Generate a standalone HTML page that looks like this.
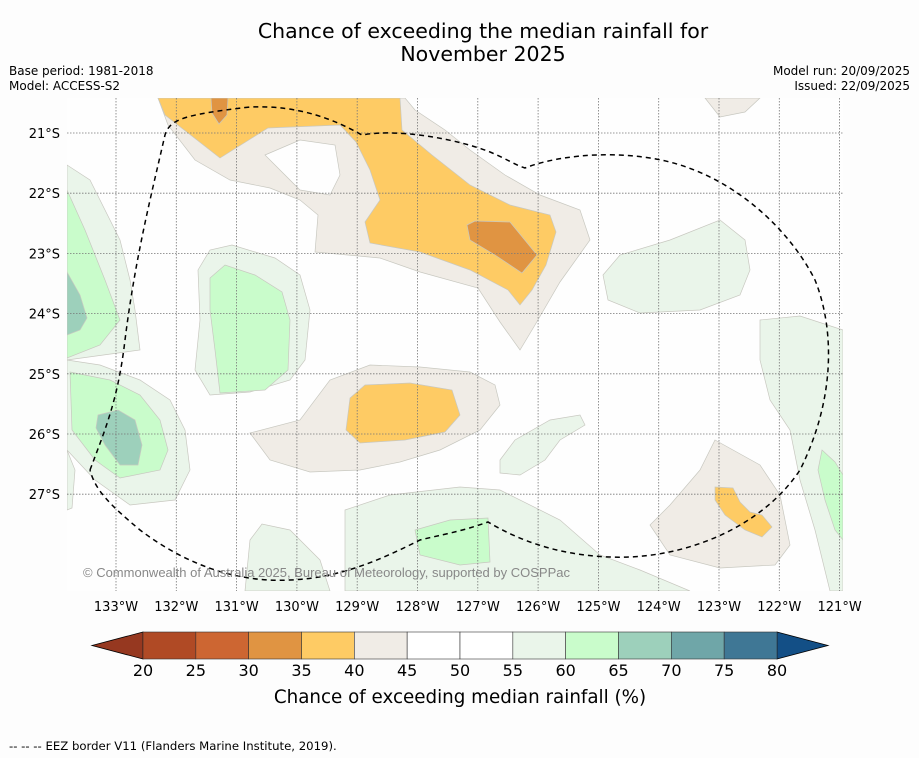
<!DOCTYPE html>
<html><head><meta charset="utf-8"><style>
body{margin:0;background:#fdfdfd;width:919px;height:758px;overflow:hidden;font-family:"Liberation Sans","DejaVu Sans",sans-serif}
svg{position:absolute;left:0;top:0}
</style></head><body>
<svg width="919" height="758">
<text x="483" y="38" font-size="20.5" text-anchor="middle" font-family="DejaVu Sans,sans-serif">Chance of exceeding the median rainfall for</text>
<text x="483" y="61" font-size="20.5" text-anchor="middle" font-family="DejaVu Sans,sans-serif">November 2025</text>
<g font-size="12" font-family="DejaVu Sans,sans-serif">
<text x="9" y="75">Base period: 1981-2018</text>
<text x="9" y="90">Model: ACCESS-S2</text>
<text x="910" y="75" text-anchor="end">Model run: 20/09/2025</text>
<text x="910" y="90" text-anchor="end">Issued: 22/09/2025</text>
</g>
<defs><clipPath id="mc"><rect x="67" y="98" width="776" height="493"/></clipPath></defs>
<g clip-path="url(#mc)" stroke="#c8c8c0" stroke-width="0.7">
<rect x="67" y="98" width="776" height="493" fill="#fefefe" stroke="none"/>
<path fill="#f0ece6" d="M158,98 L168,125 L195,160 L230,180 L270,188 L300,200 L318,215 L315,252 L380,258 L420,272 L478,288 L500,322 L520,350 L535,325 L560,282 L590,240 L580,210 L540,195 L505,175 L470,150 L445,130 L415,110 L405,98 Z"/>
<path fill="#fefefe" d="M265,155 L300,140 L335,145 L340,175 L330,195 L300,190 Z"/>
<path fill="#f0ece6" d="M705,98 L760,98 L745,112 L720,117 Z"/>
<path fill="#fecb64" d="M158,98 L165,115 L220,158 L268,128 L340,125 L356,142 L370,170 L380,200 L365,222 L370,243 L420,252 L470,270 L508,290 L520,305 L532,290 L546,265 L556,232 L550,215 L510,205 L470,185 L432,155 L402,130 L400,98 Z"/>
<path fill="#e09442" d="M211,98 L228,98 L227,115 L219,124 L212,113 Z"/>
<path fill="#e09442" d="M467,225 L475,221 L510,222 L537,255 L522,273 L495,255 L470,240 Z"/>
<path fill="#f0ece6" d="M250,433 L300,420 L330,380 L370,365 L420,367 L470,372 L495,385 L500,405 L480,430 L440,450 L400,462 L360,470 L310,472 L270,460 Z"/>
<path fill="#fecb64" d="M350,398 L365,385 L410,383 L452,390 L460,415 L445,432 L405,440 L360,443 L346,430 Z"/>
<path fill="#f0ece6" d="M715,440 L760,465 L780,495 L790,545 L775,565 L720,568 L670,555 L650,525 L670,505 L700,470 Z"/>
<path fill="#fecb64" d="M715,487 L733,488 L740,502 L750,512 L762,515 L772,527 L762,537 L745,530 L725,515 L715,500 Z"/>
<path fill="#eaf5ea" d="M67,165 L90,180 L100,200 L120,240 L130,280 L135,310 L140,350 L67,360 Z"/>
<path fill="#c9fccb" d="M67,190 L85,230 L105,280 L120,320 L100,345 L67,358 Z"/>
<path fill="#9dd0bb" d="M67,272 L80,295 L87,318 L80,330 L67,335 Z"/>
<path fill="#eaf5ea" d="M67,360 L100,365 L140,380 L170,400 L185,430 L190,470 L175,500 L130,505 L95,480 L67,450 Z"/>
<path fill="#c9fccb" d="M70,372 L110,380 L140,395 L160,420 L168,450 L160,470 L120,478 L95,460 L72,430 Z"/>
<path fill="#9dd0bb" d="M98,415 L118,410 L135,420 L142,445 L138,465 L120,465 L105,445 L96,428 Z"/>
<path fill="#eaf5ea" d="M198,270 L210,250 L232,245 L275,258 L300,275 L310,310 L305,360 L290,380 L250,392 L210,395 L195,370 L200,320 Z"/>
<path fill="#c9fccb" d="M210,278 L225,265 L255,275 L282,292 L290,320 L288,370 L265,390 L220,393 L215,350 L210,310 Z"/>
<path fill="#eaf5ea" d="M603,275 L620,255 L670,240 L720,220 L745,240 L750,270 L740,295 L700,310 L640,313 L608,300 Z"/>
<path fill="#eaf5ea" d="M500,460 L515,440 L550,420 L580,415 L585,425 L560,440 L545,460 L520,475 L500,473 Z"/>
<path fill="#eaf5ea" d="M760,320 L800,316 L843,330 L843,591 L830,591 L815,530 L800,480 L790,430 L770,400 L760,360 Z"/>
<path fill="#c9fccb" d="M822,450 L835,462 L843,475 L843,540 L835,530 L825,500 L818,470 Z"/>
<path fill="#eaf5ea" d="M345,510 L390,495 L460,487 L500,490 L560,520 L600,555 L640,570 L690,591 L345,591 Z"/>
<path fill="#c9fccb" d="M415,530 L450,520 L488,518 L490,562 L460,565 L420,555 Z"/>
<path fill="#eaf5ea" d="M250,540 L262,524 L290,530 L320,560 L330,591 L245,591 Z"/>
<path fill="#eaf5ea" d="M67,450 L75,470 L72,508 L67,510 Z"/>
</g>
<g id="grid" stroke="#777" stroke-width="0.8" stroke-dasharray="1.5,1.5"></g>
<path fill="none" stroke="#000" stroke-width="1.5" stroke-dasharray="5,4" d="M90,470 C105,430 118,400 125,340 C135,260 150,200 165,135 C170,120 180,115 250,107 C300,105 335,120 362,135 C400,128 460,140 490,152 C505,158 515,165 525,168 C550,158 600,150 650,158 C730,170 790,230 815,280 C835,330 835,400 800,470 C760,530 680,560 610,557 C550,555 510,535 488,522 C460,532 440,535 420,540 C380,560 340,578 290,580 C230,583 180,560 140,530 C110,505 95,490 90,470"/>
<text x="83" y="577" font-size="13" fill="#888">© Commonwealth of Australia 2025, Bureau of Meteorology, supported by COSPPac</text>
<g id="axlabels" font-size="13" font-family="DejaVu Sans,sans-serif"></g>
<g id="cbar"></g>
<text x="460" y="703" font-size="18.3" text-anchor="middle" font-family="DejaVu Sans,sans-serif">Chance of exceeding median rainfall (%)</text>
<text x="9" y="750" font-size="11.7" font-family="DejaVu Sans,sans-serif">--  --  -- EEZ border V11 (Flanders Marine Institute, 2019).</text>
</svg>
<script>
const lonLabels=["133°W","132°W","131°W","130°W","129°W","128°W","127°W","126°W","125°W","124°W","123°W","122°W","121°W"];
const latLabels=["21°S","22°S","23°S","24°S","25°S","26°S","27°S"];
const levels=[20,25,30,35,40,45,50,55,60,65,70,75,80];
const colors=["#b04a25","#cd6632","#e09442","#fecb64","#f0ece6","#ffffff","#ffffff","#eaf5ea","#c9fccb","#9dd0bb","#6fa6a8","#3f7795"];
const ns="http://www.w3.org/2000/svg";
const lonX=i=>116+i*60.3, latY=i=>133+i*60.2;
const grid=document.getElementById('grid'), ax=document.getElementById('axlabels');
lonLabels.forEach((t,i)=>{
 const x=lonX(i);
 if(x<843){const l=document.createElementNS(ns,'line');
 
 
 l.setAttribute('x1',x);l.setAttribute('x2',x);l.setAttribute('y1',98);l.setAttribute('y2',591);grid.appendChild(l);}
 const tx=document.createElementNS(ns,'text');
 
 
 tx.setAttribute('x',x);tx.setAttribute('y',611);tx.setAttribute('text-anchor','middle');tx.textContent=t;ax.appendChild(tx);
});
latLabels.forEach((t,i)=>{
 const y=latY(i);
 const l=document.createElementNS(ns,'line');
 
 
 l.setAttribute('x1',67);l.setAttribute('x2',843);l.setAttribute('y1',y);l.setAttribute('y2',y);grid.appendChild(l);
 const tx=document.createElementNS(ns,'text');
 
 
 tx.setAttribute('x',60);tx.setAttribute('y',y+5);tx.setAttribute('text-anchor','end');tx.textContent=t;ax.appendChild(tx);
});
const cb=document.getElementById('cbar');
const x0=143,x1=777,cy0=632,cy1=659;
const cx=v=>x0+(v-levels[0])/(levels[levels.length-1]-levels[0])*(x1-x0);
const lt=document.createElementNS(ns,'polygon');


lt.setAttribute('points',`${x0},${cy0} ${x0},${cy1} 92,${(cy0+cy1)/2}`);lt.setAttribute('fill','#963820');lt.setAttribute('stroke','#000');lt.setAttribute('stroke-width','0.8');cb.appendChild(lt);
const rt=document.createElementNS(ns,'polygon');


rt.setAttribute('points',`${x1},${cy0} ${x1},${cy1} 828,${(cy0+cy1)/2}`);rt.setAttribute('fill','#134f86');rt.setAttribute('stroke','#000');rt.setAttribute('stroke-width','0.8');cb.appendChild(rt);
colors.forEach((c,i)=>{
 const r=document.createElementNS(ns,'rect');
 
 
 r.setAttribute('x',cx(levels[i]));r.setAttribute('y',cy0);r.setAttribute('width',cx(levels[i+1])-cx(levels[i]));r.setAttribute('height',cy1-cy0);
 r.setAttribute('fill',c);r.setAttribute('stroke','#333');r.setAttribute('stroke-width','0.6');cb.appendChild(r);
});
levels.forEach(v=>{
 const t=document.createElementNS(ns,'text');
 
 
 t.setAttribute('x',cx(v));t.setAttribute('y',676);t.setAttribute('text-anchor','middle');t.setAttribute('font-size','16');t.setAttribute('font-family','DejaVu Sans,sans-serif');t.textContent=v;cb.appendChild(t);
});
</script>
</body></html>
